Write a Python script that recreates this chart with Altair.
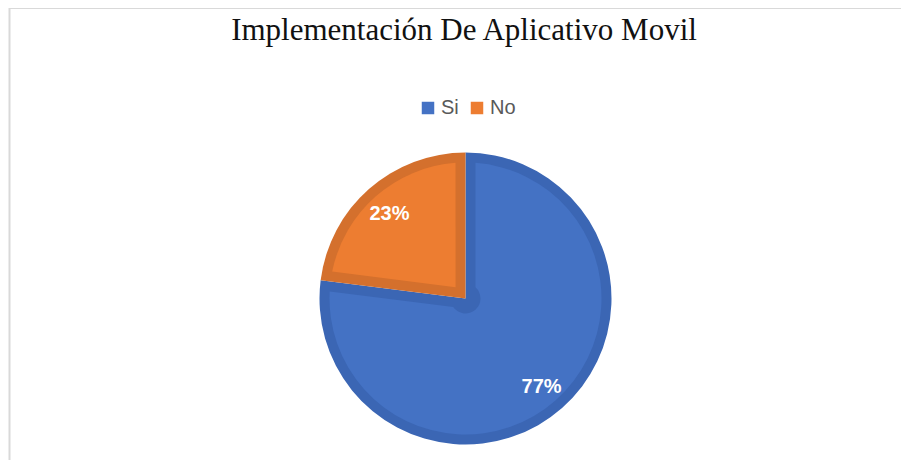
import altair as alt
import pandas as pd

# Data
categorias = ["Si", "No"]
valores = [77, 23]
colores = ["#4472C4", "#ED7D31"]
colores_borde = ["#3B66B4", "#D4702D"]
titulo = ["Implementación De Aplicativo Movil"]

df = pd.DataFrame({"categoria": categorias, "valor": valores})
df["etiqueta"] = [f"{v}%" for v in valores]
df_titulo = pd.DataFrame({"t": titulo})

W, H = 893, 452
CX, CY = 457.5, 290.5

base = alt.Chart(df).encode(
    theta=alt.Theta("valor:Q", stack=True),
    order=alt.Order("categoria:N", sort="descending"),
)

borde = base.mark_arc(outerRadius=146, x=CX, y=CY).encode(
    color=alt.Color(
        "categoria:N",
        scale=alt.Scale(domain=categorias, range=colores_borde),
        legend=None,
    )
)

relleno = base.mark_arc(
    outerRadius=136, innerRadius=15, padAngle=0.1463, x=CX, y=CY
).encode(
    fill=alt.Fill(
        "categoria:N",
        scale=alt.Scale(domain=categorias, range=colores),
        legend=alt.Legend(
            title=None,
            orient="none",
            legendX=410,
            legendY=90,
            direction="horizontal",
            symbolType="square",
            symbolSize=156,
            symbolStrokeWidth=0,
            symbolOpacity=1,
            labelFont="Liberation Sans",
            labelFontSize=20,
            labelColor="#595959",
            labelOffset=3,
            columnPadding=8,
        ),
    )
)

etiquetas = base.mark_text(
    radius=115,
    x=CX,
    y=CY,
    dy=2,
    font="Liberation Sans",
    fontSize=20,
    fontWeight="bold",
    color="white",
    baseline="middle",
    align="center",
).encode(text="etiqueta:N")

texto_titulo = (
    alt.Chart(df_titulo)
    .mark_text(
        font="Liberation Serif",
        fontSize=31,
        color="#111111",
        baseline="alphabetic",
        align="center",
    )
    .encode(text="t:N", x=alt.value(456), y=alt.value(31.5))
)

marco_sup = (
    alt.Chart(df_titulo)
    .mark_rule(color="#D9D9D9", strokeWidth=2)
    .encode(x=alt.value(1.5), x2=alt.value(W), y=alt.value(0))
)
marco_izq = (
    alt.Chart(df_titulo)
    .mark_rule(color="#D9D9D9", strokeWidth=2)
    .encode(x=alt.value(1.5), y=alt.value(0), y2=alt.value(H))
)

chart = (
    alt.layer(marco_sup, marco_izq, borde, relleno, etiquetas, texto_titulo)
    .resolve_scale(color="independent", fill="independent")
    .properties(width=W, height=H, padding=0, autosize=alt.AutoSizeParams(type="none"))
    .configure_view(stroke=None)
)

chart.save("out.html", embed_options={"renderer": "svg", "actions": False})
